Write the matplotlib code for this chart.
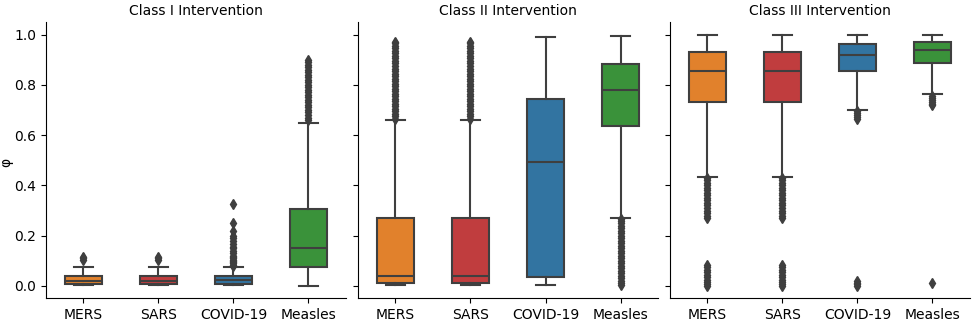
import matplotlib
matplotlib.use("Agg")
import matplotlib.pyplot as plt

panels = ["Class I Intervention", "Class II Intervention", "Class III Intervention"]
diseases = ["MERS", "SARS", "COVID-19", "Measles"]
colors = ["#e1812c", "#c03d3e", "#3274a1", "#3a923a"]

# box stats per panel: [whislo, q1, med, q3, whishi] per disease
class1_stats = [
    [0.002, 0.008, 0.02, 0.038, 0.075],
    [0.002, 0.008, 0.02, 0.038, 0.075],
    [0.003, 0.008, 0.025, 0.040, 0.075],
    [0.001, 0.075, 0.15, 0.308, 0.65],
]
class2_stats = [
    [0.005, 0.013, 0.04, 0.272, 0.66],
    [0.005, 0.013, 0.04, 0.272, 0.66],
    [0.005, 0.035, 0.495, 0.745, 0.99],
    [0.27, 0.637, 0.78, 0.884, 0.995],
]
class3_stats = [
    [0.434, 0.73, 0.855, 0.93, 1.0],
    [0.434, 0.73, 0.855, 0.93, 1.0],
    [0.70, 0.855, 0.92, 0.962, 1.0],
    [0.762, 0.885, 0.94, 0.972, 1.0],
]

# outliers per panel per disease
class1_fliers = [
    [0.105, 0.11, 0.115],
    [0.105, 0.11, 0.115],
    [0.08, 0.085, 0.09, 0.095, 0.10, 0.105, 0.11, 0.115, 0.12, 0.13, 0.14, 0.15, 0.155,
     0.165, 0.18, 0.19, 0.20, 0.22, 0.25, 0.325],
    [0.66, 0.67, 0.68, 0.69, 0.70, 0.71, 0.72, 0.73, 0.74, 0.75, 0.76, 0.77, 0.78, 0.79,
     0.80, 0.81, 0.82, 0.83, 0.84, 0.85, 0.86, 0.87, 0.88, 0.89, 0.90],
]
class2_fliers = [
    [0.665, 0.675, 0.685, 0.695, 0.705, 0.715, 0.725, 0.735, 0.745, 0.755, 0.765, 0.775,
     0.785, 0.795, 0.805, 0.815, 0.825, 0.835, 0.845, 0.855, 0.865, 0.875, 0.885, 0.895,
     0.905, 0.915, 0.925, 0.935, 0.945, 0.955, 0.965, 0.972],
    [0.665, 0.675, 0.685, 0.695, 0.705, 0.715, 0.725, 0.735, 0.745, 0.755, 0.765, 0.775,
     0.785, 0.795, 0.805, 0.815, 0.825, 0.835, 0.845, 0.855, 0.865, 0.875, 0.885, 0.895,
     0.905, 0.915, 0.925, 0.935, 0.945, 0.955, 0.965, 0.972],
    [],
    [0.005, 0.012, 0.02, 0.03, 0.04, 0.05, 0.06, 0.07, 0.08, 0.09, 0.10, 0.11, 0.12,
     0.13, 0.14, 0.15, 0.16, 0.17, 0.18, 0.19, 0.20, 0.21, 0.22, 0.23, 0.24, 0.25, 0.26, 0.265],
]
class3_fliers = [
    [0.0, 0.008, 0.015, 0.025, 0.035, 0.045, 0.055, 0.065, 0.075, 0.085,
     0.27, 0.28, 0.29, 0.30, 0.31, 0.32, 0.33, 0.34, 0.35, 0.36, 0.37, 0.38, 0.39,
     0.40, 0.41, 0.42, 0.43],
    [0.0, 0.008, 0.015, 0.025, 0.035, 0.045, 0.055, 0.065, 0.075, 0.085,
     0.27, 0.28, 0.29, 0.30, 0.31, 0.32, 0.33, 0.34, 0.35, 0.36, 0.37, 0.38, 0.39,
     0.40, 0.41, 0.42, 0.43],
    [0.0, 0.006, 0.012, 0.018, 0.665, 0.672, 0.68, 0.688, 0.695],
    [0.013, 0.718, 0.725, 0.732, 0.74, 0.748, 0.756],
]

all_stats = [class1_stats, class2_stats, class3_stats]
all_fliers = [class1_fliers, class2_fliers, class3_fliers]

gray = "#3f3f3f"
fig = plt.figure(figsize=(9.78, 3.24), dpi=100)
lefts = [46, 358, 670]
axw = 300
for i in range(3):
    ax = fig.add_axes([lefts[i] / 978, 26 / 324, axw / 978, 276 / 324])
    stats = []
    for j, d in enumerate(diseases):
        s = all_stats[i][j]
        stats.append(dict(whislo=s[0], q1=s[1], med=s[2], q3=s[3], whishi=s[4],
                          fliers=all_fliers[i][j], label=d))
    bp = ax.bxp(stats, positions=range(4), widths=0.5, patch_artist=True,
                boxprops=dict(edgecolor=gray, linewidth=1.5),
                medianprops=dict(color=gray, linewidth=1.5),
                whiskerprops=dict(color=gray, linewidth=1.5),
                capprops=dict(color=gray, linewidth=1.5),
                flierprops=dict(marker="d", markerfacecolor=gray, markeredgecolor=gray,
                                markersize=5.5, linestyle="none"))
    for patch, c in zip(bp["boxes"], colors):
        patch.set_facecolor(c)
    ax.set_xlim(-0.5, 3.5)
    ax.set_ylim(-0.048, 1.05)
    ax.set_yticks([0.0, 0.2, 0.4, 0.6, 0.8, 1.0])
    ax.set_xticks(range(4))
    ax.set_xticklabels(diseases, fontsize=10)
    ax.set_title(panels[i], fontsize=10, pad=5)
    ax.spines["top"].set_visible(False)
    ax.spines["right"].set_visible(False)
    if i > 0:
        ax.tick_params(axis="y", labelleft=False)
    ax.tick_params(axis="both", labelsize=10)

fig.text(6 / 978, 0.5, "φ", rotation=90, va="center", ha="center", fontsize=10)
fig.savefig("out.png", dpi=100)
